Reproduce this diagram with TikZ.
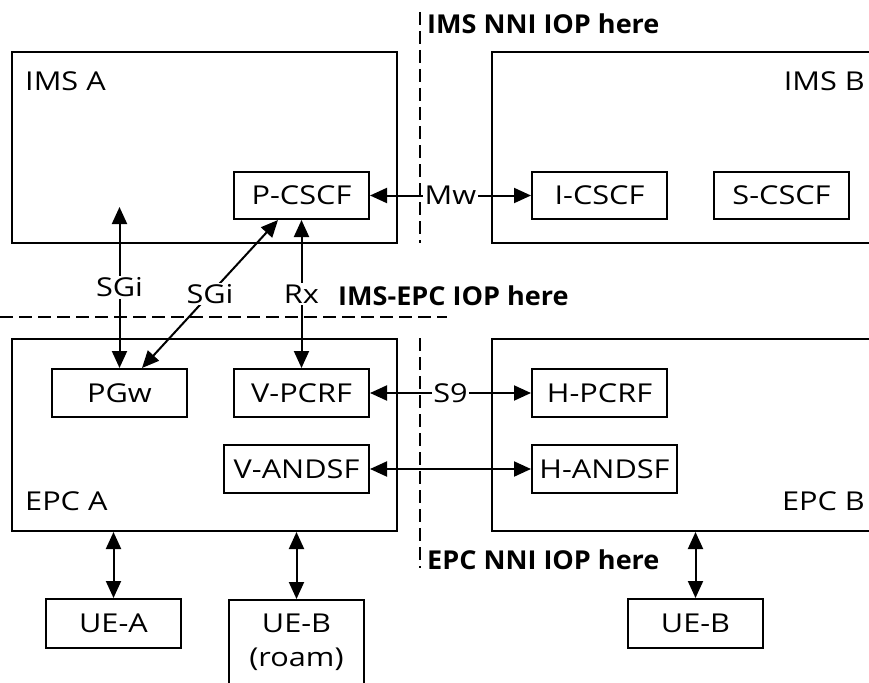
\documentclass[tikz,border=0pt]{standalone}
\usepackage{fontspec}
\setmainfont{Open Sans}[FakeStretch=1.18]
\newfontfamily\iopfont{Open Sans}[FakeStretch=1.04]
\usetikzlibrary{arrows.meta}
\begin{document}
\begin{tikzpicture}[x=1pt,y=-1pt,
  every node/.style={font=\fontsize{26}{31}\selectfont, inner sep=0pt},
  box/.style={draw, line width=2pt, minimum height=47pt, minimum width=135pt},
  area/.style={draw, line width=2pt},
  conn/.style={line width=2pt, {Triangle[length=17pt,width=15pt]}-{Triangle[length=17pt,width=15pt]}},
  lbl/.style={fill=white, inner sep=1.5pt},
  iop/.style={font=\iopfont\fontsize{26}{31}\selectfont\bfseries, anchor=base west},
  border/.style={line width=1.6pt, dash pattern=on 13pt off 6pt}
]
\clip (0,0) rectangle (869,682);
% big areas
\node[area, minimum width=385pt, minimum height=191pt] (imsa) at (204.5,147.5) {};
\node[area, minimum width=408pt, minimum height=191pt] (imsb) at (696,147.5) {};
\node[area, minimum width=385pt, minimum height=192pt] (epca) at (204.5,435) {};
\node[area, minimum width=408pt, minimum height=192pt] (epcb) at (696,435) {};
\node[anchor=base west] (limsa) at (25,91) {IMS A};
\node[anchor=base east] (limsb) at (865,91) {IMS B};
\node[anchor=base west] (lepca) at (25,510) {EPC A};
\node[anchor=base east] (lepcb) at (865,510) {EPC B};
% function boxes
\node[box] (pcscf) at (301.5,195.5) {P-CSCF};
\node[box] (icscf) at (599.5,195.5) {I-CSCF};
\node[box] (scscf) at (781.5,195.5) {S-CSCF};
\node[box, minimum height=48pt] (pgw) at (119.5,393) {PGw};
\node[box, minimum height=48pt] (vpcrf) at (301.5,393) {V-PCRF};
\node[box, minimum height=48pt, minimum width=145pt] (vandsf) at (296.5,469) {V-ANDSF};
\node[box, minimum height=48pt] (hpcrf) at (599.5,393) {H-PCRF};
\node[box, minimum height=48pt, minimum width=145pt] (handsf) at (604.5,469) {H-ANDSF};
\node[box, minimum height=49pt] (uea) at (113.5,623.5) {UE-A};
\node[box, minimum height=110pt, anchor=north] (uebr) at (296.5,599) {};
\node[anchor=base] (uebrt) at (296.5,632) {UE-B};
\node[anchor=base] (uebrr) at (296.5,666) {(roam)};
\node[box, minimum height=49pt] (ueb) at (695.5,623.5) {UE-B};
% IOP borders
\draw[border] (420,12) -- (420,243);
\draw[border] (420,338) -- (420,568);
\draw[border] (0,317) -- (447,317);
\node[iop] (iop1) at (427,34) {IMS NNI IOP here};
\node[iop] (iop2) at (338,305) {IMS-EPC IOP here};
\node[iop] (iop3) at (427,569) {EPC NNI IOP here};
% connectors
\coordinate (sgitop) at (119.5,207);
\draw[conn] (sgitop) -- node[lbl] {SGi} (pgw.north);
\draw[conn] ([xshift=-23.5pt]pcscf.south) -- node[lbl] {SGi} ([xshift=22.5pt]pgw.north);
\draw[conn] (pcscf.south) -- node[lbl] {Rx} (vpcrf.north);
\draw[conn] (pcscf.east) -- node[lbl] {Mw} (icscf.west);
\draw[conn] (vpcrf.east) -- node[lbl] {S9} (hpcrf.west);
\draw[conn] (vandsf.east) -- (handsf.west);
\draw[conn] (epca.south -| uea.north) -- (uea.north);
\draw[conn] (epca.south -| uebr.north) -- (uebr.north);
\draw[conn] (epcb.south -| ueb.north) -- (ueb.north);
\end{tikzpicture}
\end{document}
